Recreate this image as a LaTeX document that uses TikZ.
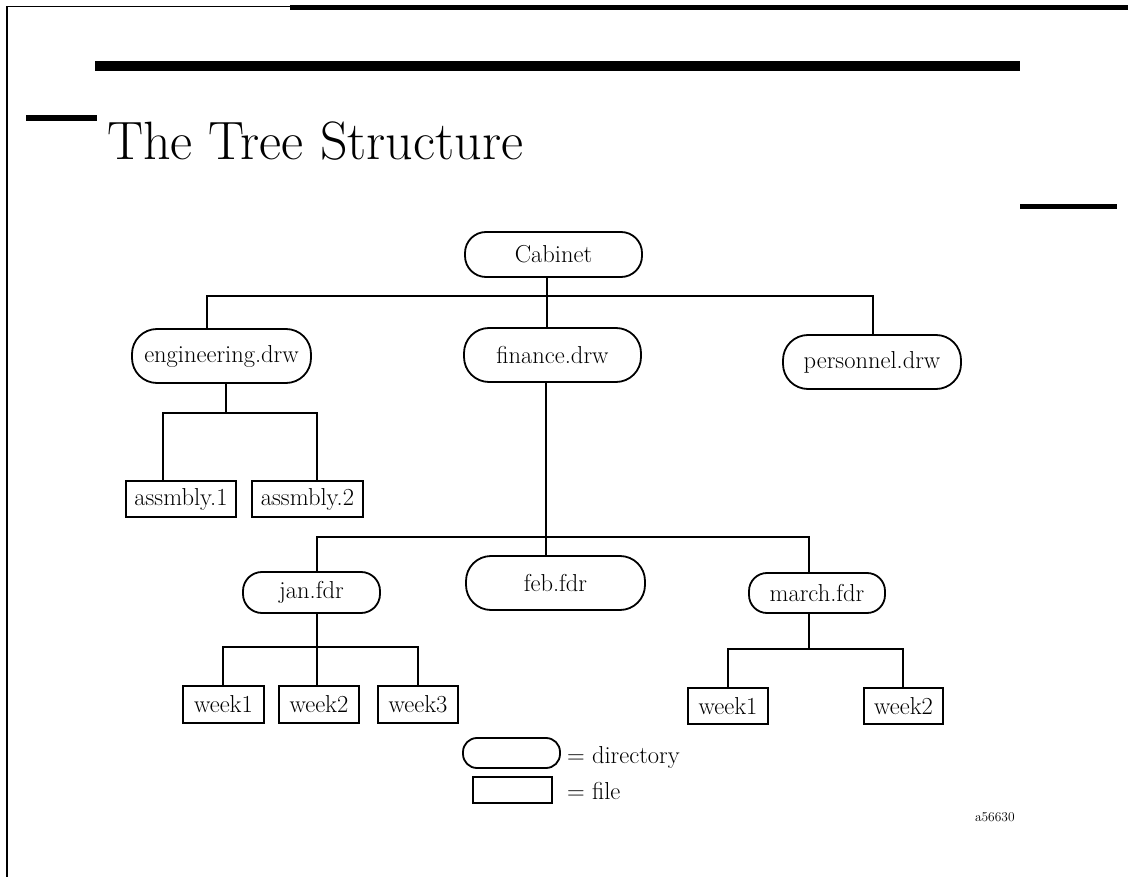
\documentclass[tikz,border=0pt]{standalone}
\usepackage{tikz}
\begin{document}
\begin{tikzpicture}[x=1pt,y=-1pt,
  line width=2pt,
  label font/.style={font=\fontsize{24.5}{28}\selectfont},
  dirnode/.style n args={3}{draw, line width=1.8pt, label font, inner sep=0pt,
    minimum width=#1pt, minimum height=#2pt, rounded corners=#3pt},
  filenode/.style 2 args={draw, line width=1.8pt, label font, inner sep=0pt,
    minimum width=#1pt, minimum height=#2pt},
  legendtext/.style={anchor=base west, inner sep=0pt, label font}
]
\useasboundingbox (0,0) rectangle (1128,877);

% page frame and rules
\draw[line width=1.2pt] (7,877) -- (7,6.5) -- (291,6.5);
\fill (290,5) rectangle (1128,10);
\fill (95,61) rectangle (1020,71);
\fill (26,115) rectangle (97,121);
\fill (1020,204) rectangle (1117,209);

% title
\node[anchor=base west, inner sep=0pt, font=\fontsize{54}{62}\selectfont] (title) at (106,160) {The Tree Structure};

% directories
\node[dirnode={177}{45}{21}] (cab) at (553.5,254.5) {Cabinet};
\node[dirnode={179}{54}{25}] (eng) at (221.5,356) {engineering.drw};
\node[dirnode={177}{54}{25}] (fin) at (552.5,355) {finance.drw};
\node[dirnode={178}{54}{25}] (per) at (872,362) {personnel.drw};
\node[dirnode={137}{41}{19}] (jan) at (311.5,592.5) {jan.fdr};
\node[dirnode={179}{54}{25}] (feb) at (555.5,583) {feb.fdr};
\node[dirnode={136}{40}{18}] (mar) at (817,593) {march.fdr};

% files
\node[filenode={110}{36}] (as1) at (181,499) {assmbly.1};
\node[filenode={111}{36}] (as2) at (307.5,499) {assmbly.2};
\node[filenode={81}{37}] (jw1) at (223.5,704.5) {week1};
\node[filenode={80}{37}] (jw2) at (319,704.5) {week2};
\node[filenode={80}{37}] (jw3) at (418,704.5) {week3};
\node[filenode={80}{36}] (mw1) at (728,706) {week1};
\node[filenode={79}{36}] (mw2) at (903.5,706) {week2};

% bus points
\coordinate (tL) at (207,296);
\coordinate (tM) at (547,296);
\coordinate (tR) at (873,296);
\coordinate (eM) at (226,413);
\coordinate (eL) at (163,413);
\coordinate (eR) at (317,413);
\coordinate (fM) at (546,537);
\coordinate (fL) at (317,537);
\coordinate (fR) at (809,537);
\coordinate (jM) at (317,647);
\coordinate (jL) at (223,647);
\coordinate (jR) at (418,647);
\coordinate (mM) at (809,649);
\coordinate (mL) at (728,649);
\coordinate (mR) at (903,649);

% connectors
\draw (cab.south -| tM) -- (fin.north -| tM);
\draw (tL |- eng.north) -- (tL) -- (tR) -- (tR |- per.north);
\draw (eng.south -| eM) -- (eM);
\draw (eL |- as1.north) -- (eL) -- (eR) -- (eR |- as2.north);
\draw (fin.south -| fM) -- (feb.north -| fM);
\draw (fL |- jan.north) -- (fL) -- (fR) -- (fR |- mar.north);
\draw (jan.south -| jM) -- (jw2.north -| jM);
\draw (jL |- jw1.north) -- (jL) -- (jR) -- (jR |- jw3.north);
\draw (mar.south -| mM) -- (mM);
\draw (mL |- mw1.north) -- (mL) -- (mR) -- (mR |- mw2.north);

% legend
\node[dirnode={97}{30}{14}] (legdir) at (511.5,753) {};
\node[filenode={79}{26}] (legfile) at (512.5,790) {};
\node[legendtext] (legdirtext) at (566,763) {= directory};
\node[legendtext] (legfiletext) at (566,799) {= file};

% figure number
\node[anchor=base west, inner sep=0pt, font=\fontsize{13.5}{15}\selectfont] (fignum) at (974,821) {a56630};
\end{tikzpicture}
\end{document}
